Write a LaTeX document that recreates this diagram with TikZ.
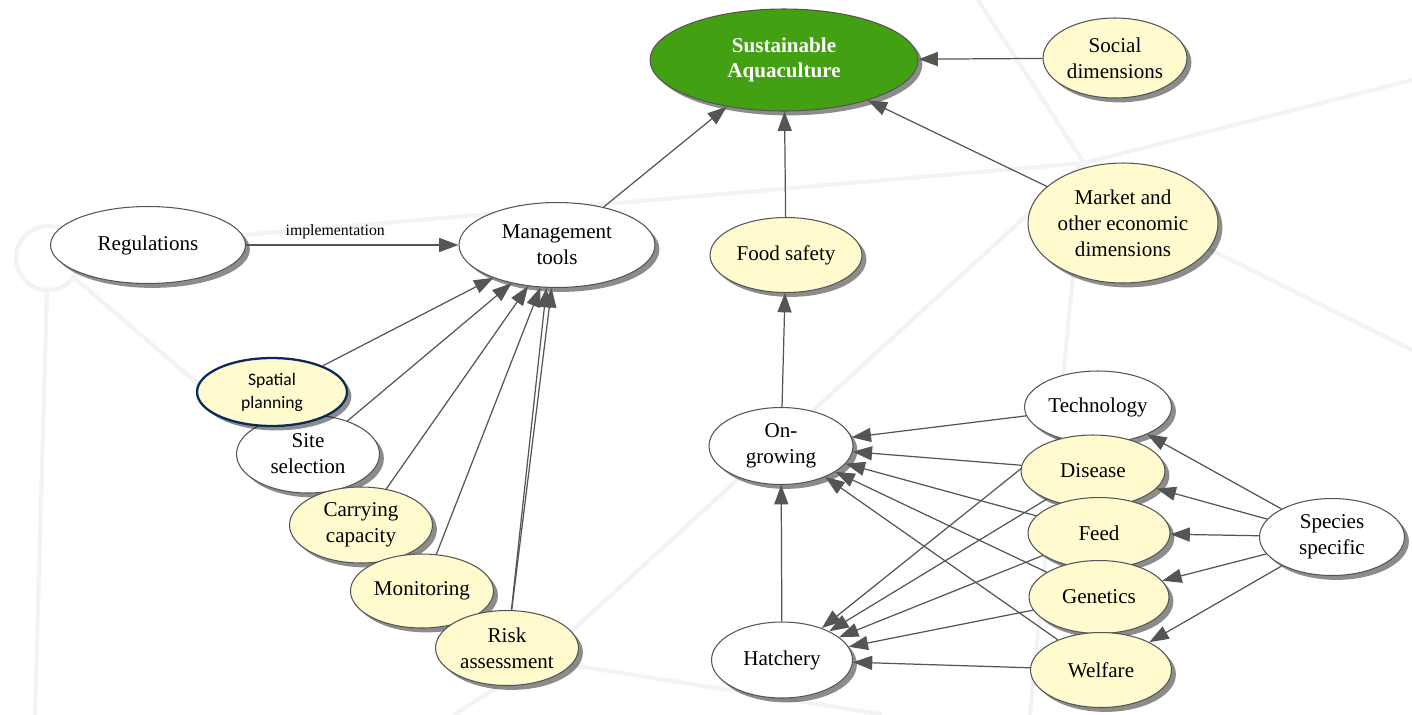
\documentclass[tikz,border=0pt]{standalone}
\usepackage{fontspec}
\setmainfont{Liberation Serif}
\newfontfamily\calibri{Carlito}
\usetikzlibrary{shapes.geometric}
\usetikzlibrary{arrows.meta}
\usetikzlibrary{shadows}
\definecolor{cream}{HTML}{FFFBCF}
\definecolor{leaf}{HTML}{43A012}
\definecolor{edgegray}{HTML}{555555}
\definecolor{navy}{HTML}{0B2A5B}
\definecolor{netgray}{HTML}{F1F3F6}
\tikzset{%
  bubble/.style = {ellipse,draw=edgegray,line width=0.6pt,inner sep=0pt,
        align=center,font=\fontsize{12}{14.7}\selectfont,
        drop shadow={shadow xshift=2.5pt,shadow yshift=-2.5pt,fill=black,opacity=.45}},
  wbub/.style = {bubble,fill=white},
  ybub/.style = {bubble,fill=cream},
  gbub/.style = {bubble,fill=leaf,text=white,
        font=\fontsize{12}{14.7}\selectfont\bfseries},
  link/.style = {-{Triangle[length=11pt,width=8pt]},color=edgegray,line width=0.7pt},
  netline/.style = {draw=netgray,line width=2.4pt,line cap=round}
}

\begin{document}
\begin{tikzpicture}[x=0.02cm,y=-0.02cm]
   \useasboundingbox (0,0) rectangle (1412,714);

   % faint network in the back
   \draw[netline] (48,258) circle (32);
   \draw[netline] (47,290) -- (35,714);
   \draw[netline] (77,280) -- (240,420);
   \draw[netline] (80,249) -- (1084,163);
   \draw[netline] (978,0) -- (1084,163) -- (1412,80);
   \draw[netline] (1084,163) -- (540,660);
   \draw[netline] (1084,163) -- (1030,714);
   \draw[netline] (1110,200) -- (1412,350);
   \draw[netline] (455,714) -- (540,660) -- (880,714);

   % top
   \node[gbub,minimum width=5.36cm,minimum height=2.04cm] (goal) at (784,60) {Sustainable\\Aquaculture};
   \node[ybub,minimum width=2.88cm,minimum height=1.6cm] (social) at (1115,58) {Social\\dimensions};
   \node[ybub,minimum width=3.8cm,minimum height=2.4cm] (market) at (1123,223) {Market and\\other economic\\dimensions};
   \node[wbub,minimum width=3.9cm,minimum height=1.54cm] (reg) at (148,245) {Regulations};
   \node[wbub,minimum width=3.92cm,minimum height=1.7cm] (mgmt) at (557,245) {Management\\tools};
   \node[ybub,minimum width=3.04cm,minimum height=1.5cm] (food) at (786,255) {Food safety};

   % management stack
   \node[wbub,minimum width=2.86cm,minimum height=1.56cm] (site) at (308,454) {Site\\selection};
   \node[ybub,draw=navy,line width=1.3pt,minimum width=3cm,minimum height=1.36cm,
         font=\calibri\fontsize{10}{13}\selectfont] (spatial) at (272,392) {Spatial\\planning};
   \node[ybub,minimum width=2.86cm,minimum height=1.52cm] (carry) at (361,525) {Carrying\\capacity};
   \node[ybub,minimum width=2.86cm,minimum height=1.48cm] (monit) at (422,591) {Monitoring};
   \node[ybub,minimum width=2.86cm,minimum height=1.5cm] (risk) at (507,648) {Risk\\assessment};

   % production
   \node[wbub,minimum width=2.88cm,minimum height=1.54cm] (ongrow) at (781,446) {On-\\growing};
   \node[wbub,minimum width=2.82cm,minimum height=1.52cm] (hatch) at (782,660) {Hatchery};
   \node[wbub,minimum width=2.94cm,minimum height=1.44cm] (tech) at (1098,407) {Technology};
   \draw[link] (tech) -- (hatch);
   \node[ybub,minimum width=2.88cm,minimum height=1.44cm] (disease) at (1093,471) {Disease};
   \node[ybub,minimum width=2.84cm,minimum height=1.42cm] (feed) at (1099,533) {Feed};
   \node[ybub,minimum width=2.8cm,minimum height=1.46cm] (genetics) at (1099,597) {Genetics};
   \node[ybub,minimum width=2.82cm,minimum height=1.5cm] (welfare) at (1101,670) {Welfare};
   \node[wbub,minimum width=2.9cm,minimum height=1.54cm] (species) at (1332,537) {Species\\specific};

   \draw[link] (mgmt) -- (goal);
   \draw[link] (food) -- (goal);
   \draw[link] (market) -- (goal);
   \draw[link] (social) -- (goal);
   \draw[link] (reg) -- node[above,pos=0.42,text=black,font=\fontsize{9}{10}\selectfont] (impl) {implementation} (mgmt);

   \draw[link] (spatial) -- (mgmt);
   \draw[link] (site) -- (mgmt);
   \draw[link] (carry) -- (mgmt);
   \draw[link] (monit) -- (mgmt);
   \draw[link] (risk) -- (mgmt);
   \draw[link] ([xshift=2.5pt]risk.north) -- ([xshift=-6pt]mgmt.south);

   \draw[link] (ongrow) -- (food);
   \draw[link] (hatch) -- (ongrow);

   \draw[link] (tech) -- (ongrow);
   \draw[link] (disease) -- (ongrow);
   \draw[link] (feed) -- (ongrow);
   \draw[link] (genetics) -- (ongrow);
   \draw[link] (welfare) -- (ongrow);

   \draw[link] (disease) -- (hatch);
   \draw[link] (feed) -- (hatch);
   \draw[link] (genetics) -- (hatch);
   \draw[link] (welfare) -- (hatch);

   \draw[link] (species) -- (tech);
   \draw[link] (species) -- (disease);
   \draw[link] (species) -- (feed);
   \draw[link] (species) -- (genetics);
   \draw[link] (species) -- (welfare);
\end{tikzpicture}
\end{document}
